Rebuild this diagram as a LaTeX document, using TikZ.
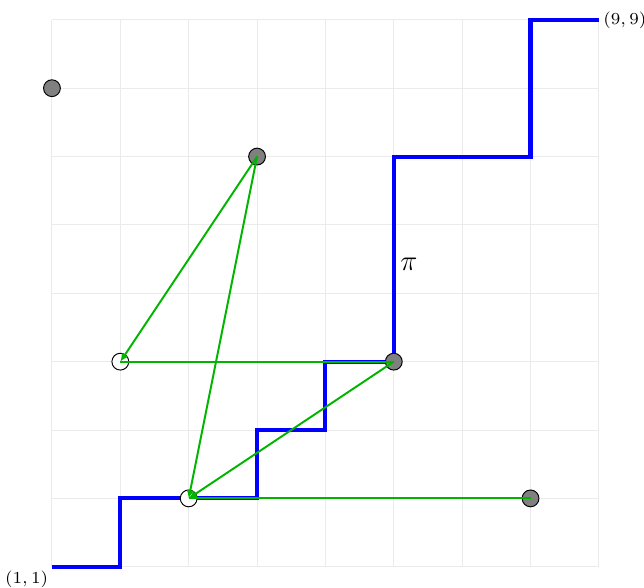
\documentclass[tikz,border=0pt]{standalone}
\usepackage{tikz}
\usetikzlibrary{arrows.meta,positioning}
\usepackage{xcolor}
\definecolor{gridline}{HTML}{EBEBEB}
\definecolor{pathblue}{HTML}{0000FF}
\definecolor{chain}{HTML}{00B400}
\definecolor{dotfill}{HTML}{808080}
\tikzset{
  >={Latex[length=1.2mm,width=1.1mm]},
  gridlines/.style={draw=gridline,line width=0.4pt},
  lattice/.style={draw=pathblue,line width=1.7pt},
  edge/.style={->,draw=chain,line width=0.8pt},
  plain/.style={draw=chain,line width=0.8pt},
  fulldot/.style={circle,draw=black,fill=dotfill,minimum size=7pt,inner sep=0pt,line width=0.4pt},
  opendot/.style={circle,draw=black,fill=white,minimum size=7pt,inner sep=0pt,line width=0.4pt},
  corner/.style={font=\scriptsize,inner sep=0.5pt},
}
\begin{document}
\begin{tikzpicture}
\useasboundingbox (0.24,0.70) rectangle (9.66,9.29);

% grid
\foreach \k in {1,...,9}{
  \draw[gridlines] (\k,1) -- (\k,9);
  \draw[gridlines] (1,\k) -- (9,\k);
}

% lattice path
\draw[lattice] (1,1) -- (2,1) -- (2,2) -- (4,2) -- (4,3) -- (5,3) -- (5,4) -- (6,4)
  -- (6,7) -- (8,7) -- (8,9) -- (9,9);
\node[font=\large] (pi) at (6.22,5.42) {$\pi$};
\node[corner,anchor=west] (end) at (9.04,9) {$(9,9)$};
\node[corner,anchor=north east] (start) at (0.97,0.96) {$(1,1)$};

% points
\node[opendot] (a) at (2,4) {};
\node[opendot] (b) at (3,2) {};
\node[fulldot] (c) at (1,8) {};
\node[fulldot] (d) at (4,7) {};
\node[fulldot] (e) at (6,4) {};
\node[fulldot] (f) at (8,2) {};

% chains
\draw[edge] (d.center) -- (a.center);
\draw[plain] (a.center) -- (e.center);
\draw[edge] (d.center) -- (b.center);
\draw[edge] (e.center) -- (b.center);
\draw[plain] (b.center) -- (f.center);

\end{tikzpicture}
\end{document}
